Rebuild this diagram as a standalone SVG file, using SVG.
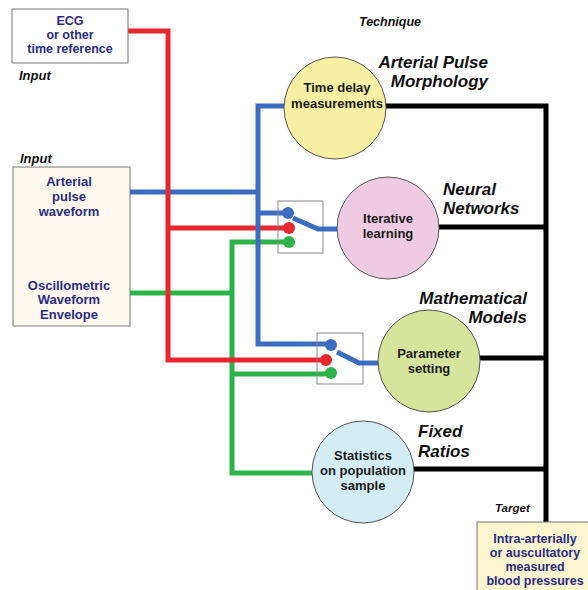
<svg xmlns="http://www.w3.org/2000/svg" width="588" height="590" viewBox="0 0 588 590">
<style>
.box{stroke:#777;stroke-width:1}
.nt{font-family:"Liberation Sans",Arial,sans-serif;font-weight:bold;font-size:12.5px;fill:#2b2b86;text-anchor:middle}
.ct{font-family:"Liberation Sans",Arial,sans-serif;font-weight:bold;font-size:13px;fill:#1a1a1a;text-anchor:middle}
.hd{font-family:"Liberation Sans",Arial,sans-serif;font-weight:bold;font-style:italic;font-size:17px;fill:#111}
.lb{font-family:"Liberation Sans",Arial,sans-serif;font-weight:bold;font-style:italic;font-size:13px;fill:#111}
.circ{stroke:#555;stroke-width:1}
.w{fill:none;stroke-width:5;stroke-linejoin:miter}
.r{stroke:#e8262d}.b{stroke:#3c6cbf}.g{stroke:#2db34a}.k{stroke:#000}
.sw{fill:none;stroke:#888;stroke-width:1}
</style>
<rect width="588" height="590" fill="#fff"/>
<g id="connectors">
<path class="w b" d="M130,192H258"/>
<path class="w g" d="M130,293H232M289,242H232V473H312M232,374H331"/>
<path class="w r" d="M128,31H168V360H326M168,228H289"/>
<path class="w b" d="M284,106H258V344H331M258,213H288"/>
<path class="w k" d="M386,106H546V523M439,227H546M480,358H546M413,469H546"/>
</g>
<g id="ecg">
<rect class="box" x="12" y="9" width="116" height="54" fill="#fff"/>
<text class="nt" x="70" y="25">ECG</text>
<text class="nt" x="70" y="39">or other</text>
<text class="nt" x="70" y="53">time reference</text>
</g>
<text class="lb" x="19" y="80">Input</text>
<text class="lb" x="20" y="163">Input</text>
<g id="inputs">
<rect class="box" x="13" y="167" width="117" height="159" fill="#fdf9ef"/>
<text class="ct" x="69" y="186" style="fill:#2b2b86">Arterial</text>
<text class="ct" x="69" y="201" style="fill:#2b2b86">pulse</text>
<text class="ct" x="69" y="216" style="fill:#2b2b86">waveform</text>
<text class="ct" x="69" y="290" style="fill:#2b2b86">Oscillometric</text>
<text class="ct" x="69" y="304" style="fill:#2b2b86">Waveform</text>
<text class="ct" x="69" y="319" style="fill:#2b2b86">Envelope</text>
</g>
<text class="lb" x="390" y="26" text-anchor="middle" style="font-size:12.5px">Technique</text>
<g id="switch1">
<rect class="sw" x="278" y="201" width="45" height="52"/>
<circle cx="288" cy="213" r="6" fill="#3c6cbf"/>
<circle cx="289" cy="228" r="6" fill="#e8262d"/>
<circle cx="289" cy="242" r="6" fill="#2db34a"/>
<path class="w b" d="M293,218L318,229H340"/>
</g>
<g id="switch2">
<rect class="sw" x="317" y="333" width="46" height="51"/>
<circle cx="331" cy="345" r="6" fill="#3c6cbf"/>
<circle cx="326" cy="360" r="6" fill="#e8262d"/>
<circle cx="331" cy="373" r="6" fill="#2db34a"/>
<path class="w b" d="M337,352L359,363H380"/>
</g>
<g id="timedelay">
<circle class="circ" cx="335" cy="108" r="51" fill="#f7efa2"/>
<text class="ct" x="337" y="92">Time delay</text>
<text class="ct" x="337" y="108">measurements</text>
</g>
<text class="hd" x="488" y="68" text-anchor="end">Arterial Pulse</text>
<text class="hd" x="488" y="87" text-anchor="end">Morphology</text>
<g id="iterative">
<circle class="circ" cx="388" cy="228" r="51" fill="#efcbe2"/>
<text class="ct" x="388" y="223">Iterative</text>
<text class="ct" x="388" y="238">learning</text>
</g>
<text class="hd" x="443" y="195">Neural</text>
<text class="hd" x="443" y="214">Networks</text>
<g id="parameter">
<circle class="circ" cx="429" cy="361" r="51" fill="#d6e49c"/>
<text class="ct" x="429" y="358">Parameter</text>
<text class="ct" x="429" y="373">setting</text>
</g>
<text class="hd" x="527" y="304" text-anchor="end">Mathematical</text>
<text class="hd" x="527" y="323" text-anchor="end">Models</text>
<g id="statistics">
<circle class="circ" cx="363" cy="472" r="51" fill="#d4ecf4"/>
<text class="ct" x="363" y="460">Statistics</text>
<text class="ct" x="363" y="475">on population</text>
<text class="ct" x="363" y="490">sample</text>
</g>
<text class="hd" x="418" y="437">Fixed</text>
<text class="hd" x="418" y="457">Ratios</text>
<text class="lb" x="495" y="512" style="font-size:11.5px">Target</text>
<g id="target">
<rect class="box" x="477" y="522" width="115" height="72" fill="#fbf6d0" stroke="#ccc"/>
<text class="nt" x="535" y="543">Intra-arterially</text>
<text class="nt" x="535" y="557">or auscultatory</text>
<text class="nt" x="535" y="571">measured</text>
<text class="nt" x="535" y="585">blood pressures</text>
</g>
</svg>
